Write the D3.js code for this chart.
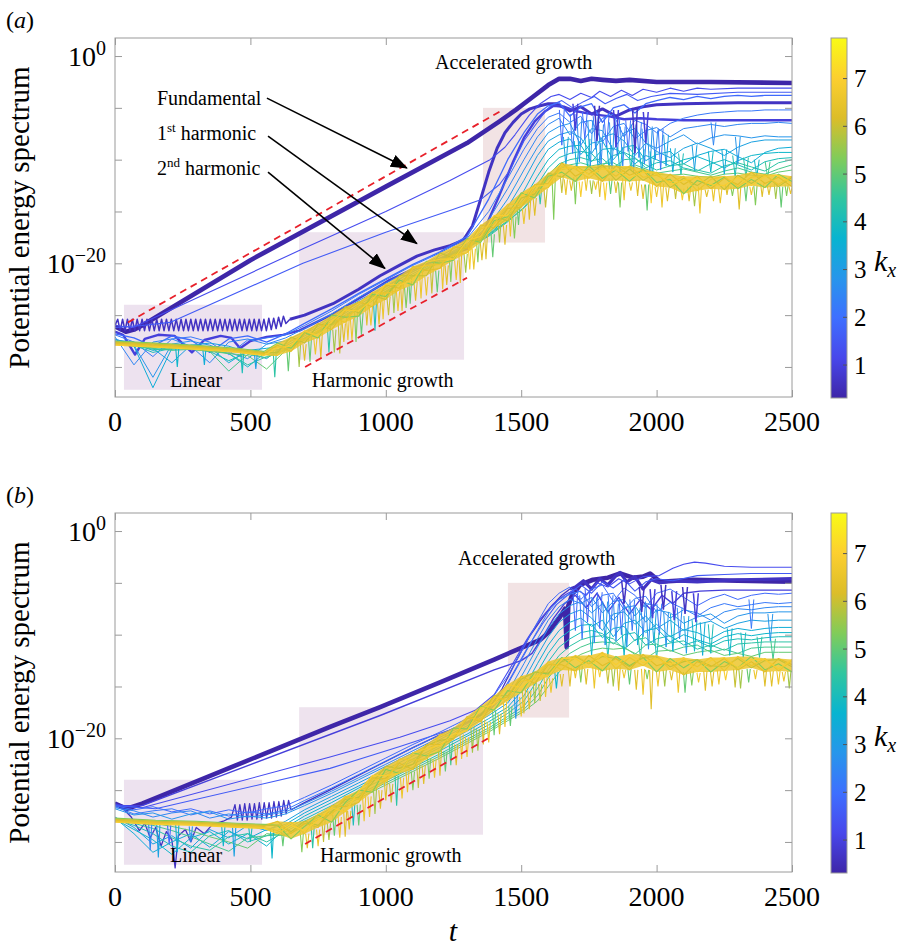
<!DOCTYPE html>
<html>
<head>
<meta charset="utf-8">
<script src="https://cdn.jsdelivr.net/npm/d3@7"></script>
<style>
body { margin: 0; background: #fff; }
svg text { font-family: "Liberation Serif", "Times New Roman", serif; fill: #000; }
</style>
</head>
<body>
<svg id="fig" width="905" height="946"></svg>
<script>
// ---------- data (t, log10 of the spectrum) ----------
const kx = [0.31,0.63,0.94,1.26,1.57,1.88,2.20,2.51,2.83,3.14,3.46,3.77,4.08,4.40,4.71,
            5.03,5.34,5.65,5.97,6.28,6.60,6.91,7.23,7.54,7.85];
const kRange = [0.31, 7.85];
const kTicks = [1, 2, 3, 4, 5, 6, 7];
const xTicks = [0, 500, 1000, 1500, 2000, 2500];
const yTicks = [-30, -25, -20, -15, -10, -5, 0];
const yLabelled = [0, -20];
const yExp = [-32.9, 1.74];

// shared time grids
const tGrid = [0,70,140,210,280,350,420,490,560,630,700,800,900,1000,1100,1200,1300,1380,1450,1510,
               1560,1600,1640,1680,1720,1760,1800,1840,1880,1920,1960,2000,2050,2100,2150,2200,2250,
               2300,2350,2400,2450,2500];
const tBand = [0,150,300,450,550,600,650,700,750,800,850,900,950,1000,1050,1100,1150,1200,1250,1300,
               1350,1400,1450,1500,1550,1600,1650,1700,1750,1800,1850,1900,1950,2000,2050,2100,2150,
               2200,2250,2300,2350,2400,2450,2500];

// ----- panel (a) -----
const fundA = [[0,-26.1],[40,-26.6],[70,-26.4],[100,-26.0],[500,-19.7],[1000,-12.6],[1300,-8.4],[1420,-6.3],
  [1480,-5.2],[1540,-4.0],[1600,-2.8],[1640,-2.2],[1680,-2.2],[1720,-2.4],[1760,-2.2],[1800,-2.3],
  [1850,-2.4],[1900,-2.3],[2000,-2.5],[2200,-2.5],[2500,-2.6]];
const combA = [[0,-26.0],[10,-25.4],[19,-26.5],[28,-25.4],[37,-26.5],[46,-25.4],[55,-26.5],[64,-25.4],
  [73,-26.5],[82,-25.4],[91,-26.5],[100,-25.4],[109,-26.5],[118,-25.4],[127,-26.5],[136,-25.4],[145,-26.5],
  [154,-25.4],[163,-26.5],[172,-25.4],[181,-26.5],[190,-25.4],[199,-26.5],[208,-25.4],[217,-26.5],
  [226,-25.4],[235,-26.5],[244,-25.4],[253,-26.5],[262,-25.4],[271,-26.5],[280,-25.4],[289,-26.5],
  [298,-25.4],[307,-26.5],[316,-25.4],[325,-26.5],[334,-25.4],[343,-26.5],[352,-25.4],[361,-26.5],
  [370,-25.4],[379,-26.5],[388,-25.4],[397,-26.5],[406,-25.4],[415,-26.5],[424,-25.4],[433,-26.5],
  [442,-25.4],[451,-26.5],[460,-25.4],[469,-26.5],[478,-25.4],[487,-26.5],[496,-25.4],[505,-26.5],
  [514,-25.4],[523,-26.5],[532,-25.4],[541,-26.5],[550,-25.4],[559,-26.5],[568,-25.3],[577,-26.4],
  [586,-25.3],[595,-26.3],[604,-25.2],[613,-26.1],[622,-25.1],[631,-25.8],[646,-25.4]];
const harmA2 = [[646,-25.4],[700,-25.0],[805,-23.9],[900,-22.5],[979,-21.2],[1050,-20.2],[1115,-19.3],
  [1180,-18.7],[1237,-18.3],[1285,-17.8],[1320,-16.4],[1348,-14.0],[1380,-11.2],[1411,-8.9],[1440,-7.4],
  [1470,-6.4],[1500,-5.6],[1532,-5.1],[1570,-4.8],[1600,-4.6],[1630,-4.6],[1680,-5.3],[1720,-4.9],
  [1760,-5.6],[1800,-5.1],[1850,-5.8],[1900,-5.2],[1950,-4.9],[2000,-4.7],[2100,-4.6],[2300,-4.5],[2500,-4.5]];
const modeA3 = [[0,-26.6],[30,-26.9],[74,-28.8],[110,-27.3],[160,-26.9],[220,-27.0],[284,-28.6],[330,-27.4],
  [390,-27.0],[430,-27.2],[462,-28.2],[500,-27.5],[560,-27.1],[620,-26.9],[680,-26.5],[805,-24.9],
  [900,-23.4],[1015,-21.6],[1115,-20.4],[1237,-19.2],[1300,-18.6],[1360,-17.0],[1420,-13.4],[1470,-10.2],
  [1510,-7.9],[1550,-6.3],[1590,-5.3],[1620,-4.8],[1660,-4.9],[1700,-5.3],[1760,-5.6],[1820,-5.8],
  [1880,-6.1],[1940,-6.0],[2000,-6.1],[2100,-6.2],[2300,-6.2],[2500,-6.2]];
const modeA4 = [[0,-26.0],[66,-26.2],[694,-18.6],[1000,-15.0],[1237,-12.0],[1385,-10.0],[1440,-8.8],
  [1477,-7.6],[1530,-5.7],[1570,-4.6],[1610,-3.9],[1640,-3.7],[1680,-4.2],[1720,-3.6],[1760,-4.0],
  [1790,-3.4],[1830,-3.9],[1870,-3.3],[1910,-3.8],[1950,-3.2],[2000,-3.5],[2050,-3.1],[2100,-3.4],
  [2150,-3.1],[2200,-3.2],[2300,-3.1],[2500,-3.1]];
const modeA5 = [[0,-26.2],[100,-26.0],[203,-25.7],[694,-20.0],[1000,-17.0],[1237,-14.9],[1348,-13.9],
  [1420,-12.4],[1459,-11.0],[1510,-8.2],[1551,-6.7],[1590,-5.3],[1614,-4.7],[1650,-4.3],[1690,-5.0],
  [1730,-4.4],[1770,-3.9],[1810,-4.6],[1850,-4.1],[1890,-3.7],[1930,-4.3],[1980,-3.9],[2050,-3.6],
  [2150,-3.7],[2300,-3.5],[2500,-3.5]];
const eA6  = [-26.8,-27.2,-28.0,-27.0,-27.4,-28.6,-27.3,-27.0,-27.6,-26.8,-25.8,-24.4,-22.9,-21.5,-20.1,-18.9,-17.4,-13.8,-10.0,-7.4,-5.6,-4.8,-4.5,-5.8,-4.9,-4.6,-6.4,-5.0,-4.7,-5.5,-4.6,-4.3,-4.0,-4.2,-3.9,-4.1,-3.9,-3.8,-3.9,-3.8,-3.8,-3.8];
const eA7  = [-26.9,-27.6,-29.0,-27.3,-27.1,-27.6,-28.8,-27.4,-27.2,-26.9,-26.0,-24.6,-23.0,-21.6,-20.2,-19.0,-17.6,-15.0,-11.8,-9.0,-7.0,-5.9,-5.5,-6.4,-5.8,-7.5,-6.0,-5.6,-7.8,-6.2,-6.6,-7.4,-6.5,-6.0,-5.7,-5.5,-5.4,-5.3,-5.3,-5.2,-5.2,-5.2];
const eA8  = [-27.1,-29.8,-27.6,-27.3,-28.0,-29.6,-27.6,-27.3,-27.8,-27.2,-26.3,-24.9,-23.3,-21.9,-20.5,-19.3,-17.9,-15.8,-12.8,-10.0,-7.8,-6.6,-6.0,-7.6,-6.4,-6.2,-8.3,-6.8,-6.5,-8.0,-7.2,-6.9,-7.8,-7.0,-6.8,-6.6,-6.8,-6.6,-6.5,-6.5,-6.4,-6.5];
const eA9  = [-27.3,-27.9,-31.0,-27.8,-27.5,-27.9,-28.6,-29.2,-27.8,-27.5,-26.6,-25.2,-23.6,-22.2,-20.8,-19.5,-18.1,-16.4,-13.8,-11.0,-8.8,-7.4,-6.8,-6.5,-8.6,-7.0,-7.2,-9.1,-7.4,-7.0,-8.4,-8.9,-8.2,-7.6,-8.5,-7.9,-7.6,-7.7,-7.9,-7.7,-7.8,-7.8];
const eA10 = [-27.4,-27.6,-28.2,-29.6,-27.9,-27.7,-28.0,-28.6,-29.2,-27.8,-26.8,-25.4,-23.8,-22.3,-20.8,-19.6,-18.2,-16.8,-14.6,-12.0,-9.6,-8.2,-7.6,-7.3,-7.9,-9.4,-7.8,-7.5,-8.2,-9.6,-8.4,-9.2,-9.8,-8.9,-8.4,-8.9,-9.6,-8.8,-8.3,-8.1,-8.1,-8.1];
const eA11 = [-27.5,-28.0,-32.0,-28.2,-27.9,-28.1,-29.6,-28.4,-28.2,-28.0,-27.0,-25.6,-24.0,-22.5,-21.0,-19.7,-18.3,-17.0,-15.2,-13.0,-10.6,-9.0,-8.3,-8.0,-9.5,-8.4,-8.2,-10.0,-8.8,-8.6,-10.1,-9.5,-9.2,-10.4,-9.6,-9.2,-9.0,-9.7,-10.3,-9.3,-8.9,-8.8];
const eA12 = [-27.6,-27.8,-28.4,-28.1,-28.0,-28.3,-28.7,-30.0,-28.5,-28.2,-27.2,-25.8,-24.2,-22.7,-21.2,-19.8,-18.4,-17.2,-15.6,-13.8,-11.6,-10.0,-9.0,-8.7,-8.6,-10.2,-9.0,-8.9,-9.4,-10.4,-9.6,-10.0,-10.6,-10.0,-9.7,-10.2,-10.8,-10.1,-9.6,-9.4,-9.3,-9.3];
const eA13 = [-27.6,-27.9,-28.6,-28.2,-28.1,-28.5,-29.4,-28.6,-28.8,-28.3,-27.3,-25.9,-24.3,-22.7,-21.2,-19.9,-18.5,-17.3,-15.9,-14.3,-12.4,-10.8,-9.8,-9.4,-9.2,-9.4,-10.6,-9.6,-9.3,-9.8,-10.8,-10.3,-10.1,-10.8,-11.1,-10.4,-10.0,-10.5,-11.0,-10.2,-9.9,-9.8];
const eA14 = [-27.7,-27.9,-28.3,-28.3,-28.2,-28.4,-28.7,-29.8,-29.0,-28.4,-27.4,-26.0,-24.4,-22.8,-21.3,-19.9,-18.5,-17.4,-16.0,-14.6,-13.0,-11.5,-10.4,-10.0,-9.8,-10.1,-9.9,-10.8,-10.0,-9.9,-10.5,-11.0,-10.6,-10.4,-11.0,-11.3,-10.6,-10.3,-10.7,-11.1,-10.3,-10.0];
const eA15 = [-27.7,-28.0,-28.2,-28.4,-28.3,-28.5,-30.4,-28.8,-29.1,-28.3,-27.2,-25.9,-24.4,-22.8,-21.2,-19.9,-18.4,-17.2,-15.9,-14.7,-13.2,-11.8,-10.9,-10.5,-10.3,-10.6,-10.4,-10.3,-10.9,-10.5,-10.9,-11.3,-11.1,-10.9,-11.2,-11.5,-11.1,-10.8,-11.2,-11.4,-10.9,-10.5];
const eA16 = [-27.7,-27.9,-28.1,-28.2,-28.3,-28.5,-28.7,-28.9,-30.2,-28.4,-27.3,-25.9,-24.4,-22.8,-21.3,-19.9,-18.4,-17.0,-15.6,-14.3,-13.0,-11.9,-11.0,-10.8,-10.7,-10.8,-10.7,-10.6,-10.8,-10.7,-11.1,-11.4,-11.5,-11.4,-11.6,-11.7,-11.4,-11.3,-11.5,-11.6,-11.2,-11.0];
const bandA17 = [-27.5,-27.7,-27.9,-28.2,-28.5,-27.7,-28.2,-26.7,-27.2,-25.0,-25.2,-25.1,-23.0,-23.2,-21.6,-22.1,-19.8,-20.0,-19.7,-17.6,-18.0,-15.9,-15.5,-13.2,-13.7,-11.6,-11.2,-12.1,-10.6,-11.8,-11.0,-12.1,-10.9,-12.2,-11.9,-13.3,-12.0,-12.5,-11.7,-12.8,-11.9,-12.7,-11.4,-12.1];
const bandA19 = [-27.6,-27.8,-28.0,-28.3,-28.6,-28.6,-27.1,-27.7,-25.9,-25.9,-24.2,-24.8,-23.1,-23.5,-21.2,-21.2,-21.2,-19.0,-19.5,-17.7,-17.8,-15.5,-15.9,-13.7,-13.3,-11.3,-11.7,-10.6,-11.4,-10.5,-12.0,-10.9,-12.0,-11.2,-12.7,-11.8,-12.5,-11.6,-12.9,-11.5,-12.3,-11.4,-12.6,-11.7];
const bandA20 = [-27.7,-27.9,-28.1,-28.4,-28.7,-27.9,-28.5,-26.8,-25.8,-26.4,-24.6,-23.7,-24.2,-22.1,-22.4,-20.3,-20.7,-20.5,-18.4,-18.6,-16.3,-16.6,-14.7,-14.6,-12.4,-12.3,-10.3,-11.6,-10.9,-12.1,-10.6,-11.5,-11.0,-12.6,-11.4,-12.4,-11.6,-12.8,-11.8,-12.4,-11.2,-12.3,-11.7,-12.6];
const bandA21 = [-27.8,-28.0,-28.2,-28.5,-28.8,-28.9,-27.4,-27.4,-26.5,-25.2,-25.7,-24.0,-22.8,-22.9,-22.6,-20.5,-20.2,-20.1,-19.2,-19.0,-16.7,-16.2,-14.3,-14.3,-13.0,-12.7,-10.6,-10.9,-11.8,-10.7,-11.6,-10.6,-11.7,-11.5,-12.2,-11.6,-13.0,-11.9,-11.6,-12.6,-11.7,-11.5,-12.4,-11.6];
const bandA22 = [-27.9,-28.1,-28.3,-28.6,-28.9,-28.1,-28.0,-26.5,-27.0,-25.6,-24.5,-24.6,-23.5,-22.0,-22.1,-21.6,-19.9,-19.6,-19.6,-17.8,-17.4,-15.4,-15.4,-13.5,-12.6,-12.4,-10.9,-10.7,-11.4,-10.9,-11.0,-11.8,-11.2,-11.3,-12.4,-12.0,-11.8,-12.4,-12.5,-11.7,-12.5,-11.6,-11.5,-12.3];
// downward dips below the high-kx band: [t, top, bottom, mode]
const spikesA = [[230,-28.1,-30.0,12],[330,-28.2,-29.8,11],[470,-28.4,-30.6,13],[520,-28.5,-30.2,10],
  [590,-28.4,-31.0,14],[640,-28.1,-30.4,16],[680,-27.5,-30.0,18],[720,-27.0,-29.5,16],[760,-26.6,-29.2,20],
  [790,-26.0,-28.6,14],[830,-25.5,-28.7,19],[860,-24.9,-27.4,21],[890,-24.5,-27.6,17],[930,-23.8,-26.0,20],
  [960,-23.4,-26.5,13],[990,-22.8,-25.4,21],[1030,-22.2,-24.8,18],[1060,-21.8,-24.6,20],[1090,-21.3,-23.9,16],
  [1130,-20.7,-23.4,21],[1170,-20.2,-22.9,19],[1210,-19.7,-22.5,21],[1240,-19.2,-21.8,17],[1275,-18.7,-21.9,20],
  [1310,-18.0,-20.6,22],[1340,-17.5,-19.9,17],[1370,-16.9,-19.6,20],[1420,-15.8,-18.0,18],[1460,-15.0,-17.4,21],
  [1490,-14.3,-16.3,16],[1530,-13.5,-15.8,20],[1570,-12.6,-14.3,14],[1620,-11.8,-15.8,17],[1650,-11.5,-13.2,19],
  [1700,-11.7,-14.3,17],[1740,-11.6,-13.0,21],[1790,-11.7,-13.6,20],[1830,-11.8,-13.3,16],[1880,-11.8,-13.9,21],
  [1930,-11.9,-13.5,20],[1980,-12.1,-14.2,22],[2020,-12.3,-14.6,21],[2070,-12.4,-13.8,19],[2120,-12.6,-14.0,20],
  [2160,-12.6,-15.2,21],[2210,-12.6,-14.0,21],[2260,-12.4,-13.4,20],[2330,-12.4,-14.0,16],[2390,-12.3,-13.6,20],
  [2440,-12.3,-13.8,18],[2480,-12.4,-13.5,17],
  [700,-27.8,-29.4,20],[740,-27.2,-28.8,21],[810,-26.4,-28.6,18],[845,-25.8,-27.6,20],[875,-25.3,-27.4,21],
  [910,-24.8,-26.9,16],[945,-24.2,-26.0,21],[975,-23.7,-25.9,20],[1010,-23.2,-25.0,19],[1045,-22.7,-24.6,21],
  [1075,-22.3,-24.3,17],[1110,-21.8,-23.6,20],[1150,-21.3,-23.1,21],[1190,-20.7,-22.8,16],[1225,-20.2,-22.1,20],
  [1260,-19.7,-21.6,21],[1295,-19.1,-20.9,18],[1325,-18.6,-20.6,21],[1355,-18.0,-19.7,20],[1395,-17.2,-19.4,16],
  [1440,-16.3,-18.2,20],[1475,-15.5,-17.6,17],[1510,-14.7,-16.2,21],[1550,-13.7,-15.4,20],[1590,-12.8,-14.6,19],
  [1665,-11.9,-13.4,21],[1685,-12.0,-13.0,20],[1720,-12.1,-13.6,22],[1760,-12.0,-13.3,18],[1775,-12.1,-12.9,21],
  [1810,-12.2,-13.9,22],[1850,-12.1,-13.2,20],[1865,-12.2,-14.6,17],[1905,-12.2,-13.0,21],[1950,-12.4,-13.8,20],
  [1965,-12.4,-14.9,16],[2000,-12.6,-13.6,21],[2040,-12.7,-14.0,20],[2095,-12.8,-13.9,22],[2140,-12.9,-14.5,18],
  [2185,-12.9,-13.6,20],[2235,-12.8,-14.2,21],[2280,-12.6,-13.5,17],[2305,-12.6,-14.8,20],[2350,-12.6,-13.4,21],
  [2365,-12.5,-14.4,17],[2415,-12.5,-13.4,20],[2460,-12.6,-14.6,16],[2495,-12.6,-13.3,21]];
// dips of the low-kx modes in the saturated stage: [t, top, bottom, mode]
const dipsA = [[1650,-5.2,-8.6,6],[1690,-5.6,-9.4,7],[1715,-6.0,-10.2,8],[1735,-5.4,-8.0,6],[1755,-6.2,-10.8,9],
  [1775,-5.8,-9.0,7],[1795,-6.6,-10.4,8],[1815,-5.9,-8.8,6],[1835,-6.4,-11.0,9],[1855,-6.0,-9.6,7],
  [1875,-6.8,-10.6,8],[1895,-6.2,-9.2,6],[1915,-6.6,-11.2,9],[1935,-6.4,-9.8,7],[1955,-7.0,-10.4,8],
  [1975,-6.8,-11.4,9],[1995,-7.2,-10.0,8],[2015,-7.0,-11.0,7],[2035,-7.6,-10.6,10],[1665,-7.8,-10.6,10],
  [1705,-8.2,-11.0,11],[1745,-8.0,-10.8,12],[1785,-8.4,-11.2,10],[1825,-8.6,-11.0,11],[1865,-8.8,-11.3,12],
  [1905,-8.6,-11.0,13],[1945,-9.0,-11.2,11],[1985,-9.2,-11.4,12],[2060,-8.9,-11.2,11],[2090,-9.4,-11.4,13],
  [2140,-8.6,-11.0,10],[2200,-9.2,-11.2,12],[2250,-9.0,-11.4,11],[2290,-9.6,-11.6,13],[2330,-9.8,-11.7,14],
  [2370,-10.0,-11.6,12],[2410,-10.2,-11.7,15],[2300,-7.8,-10.4,9],[2210,-6.4,-8.6,8],[1700,-4.6,-7.2,3],
  [1780,-4.8,-8.2,2],[1850,-5.2,-8.8,3],[1920,-5.0,-9.4,2],[1960,-5.4,-8.4,3]];
// shaded phases: [t0, t1, top, bottom]
const zonesA = [[33,543,-24.0,-32.2],[680,1289,-17.0,-29.3],[1359,1588,-5.0,-18.0]];
const dashesA = [[[48,-25.7],[1432,-5.2]],[[702,-30.0],[1300,-21.4]]];

// ----- panel (b) -----
const fundB = [[0,-26.3],[44,-26.8],[100,-26.3],[794,-18.9],[979,-17.0],[1200,-14.6],[1400,-12.4],[1570,-10.5],
  [1600,-9.8],[1643,-8.3],[1662,-7.5],[1668,-11.2],[1674,-7.2],[1690,-6.0],[1706,-5.6],[1717,-5.2],[1765,-4.7],
  [1820,-4.5],[1865,-4.1],[1913,-4.5],[1950,-4.4],[1976,-4.1],[2013,-4.9],[2134,-4.7],[2300,-4.8],[2500,-4.9]];
const lowB2 = [[0,-26.2],[30,-26.8],[60,-27.6],[90,-28.9],[110,-28.2],[130,-29.6],[150,-28.6],[170,-30.4],
  [190,-29.0],[210,-29.8],[222,-32.5],[234,-29.4],[260,-28.8],[280,-30.0],[300,-28.6],[330,-29.2],[360,-28.3],
  [400,-28.0],[430,-27.6],[443,-26.4],[452,-27.9],[461,-26.4],[470,-27.9],[479,-26.3],[488,-27.9],[497,-26.3],
  [506,-27.8],[515,-26.3],[524,-27.8],[533,-26.2],[542,-27.8],[551,-26.2],[560,-27.7],[569,-26.2],[578,-27.7],
  [587,-26.1],[596,-27.6],[605,-26.1],[614,-27.5],[623,-26.0],[632,-27.3],[641,-26.0],[650,-26.9],[700,-26.2],
  [800,-24.9],[979,-22.5],[1100,-20.9],[1237,-19.2],[1330,-18.1],[1380,-17.1],[1430,-15.2],[1480,-12.6],
  [1530,-10.2],[1570,-8.7],[1610,-7.3],[1650,-6.2],[1680,-5.6]];
const topB2 = [[1680,-5.6],[1700,-5.4],[1730,-4.8],[1760,-5.6],[1790,-4.6],[1820,-5.2],[1850,-4.3],[1865,-4.0],
  [1890,-4.9],[1920,-4.4],[1950,-5.6],[1980,-4.7],[2010,-5.0],[2060,-4.8],[2150,-4.9],[2300,-4.7],[2500,-4.6]];
const modeB3 = [[0,-26.5],[100,-26.5],[979,-17.8],[1400,-13.4],[1500,-12.5],[1540,-11.8],[1580,-10.2],[1620,-8.4],
  [1660,-7.0],[1700,-6.2],[1740,-7.4],[1780,-6.0],[1820,-7.8],[1860,-6.4],[1900,-8.0],[1940,-6.6],[1980,-7.6],
  [2020,-6.2],[2060,-7.0],[2100,-6.0],[2160,-5.8],[2250,-5.7],[2350,-5.7],[2500,-5.7]];
const modeB4 = [[0,-26.4],[100,-26.7],[794,-21.8],[1052,-19.9],[1237,-18.3],[1330,-17.3],[1400,-15.8],[1460,-13.2],
  [1520,-10.5],[1570,-8.5],[1620,-7.0],[1660,-6.2],[1700,-5.6],[1740,-6.2],[1780,-5.0],[1820,-5.4],[1860,-4.6],
  [1900,-5.1],[1950,-4.4],[2010,-4.3],[2060,-3.6],[2100,-3.2],[2140,-3.0],[2180,-3.1],[2250,-3.4],[2350,-3.5],[2500,-3.5]];
const modeB5 = [[0,-26.5],[150,-26.8],[794,-22.9],[1052,-20.8],[1237,-19.2],[1330,-18.2],[1400,-16.8],[1460,-14.2],
  [1520,-11.4],[1580,-8.9],[1630,-7.1],[1680,-6.0],[1720,-5.2],[1760,-6.0],[1800,-4.9],[1840,-5.5],[1880,-4.7],
  [1920,-5.8],[1960,-4.9],[2000,-4.6],[2060,-4.8],[2150,-4.3],[2250,-4.2],[2350,-4.1],[2500,-4.1]];
const eB6  = [-26.5,-26.9,-26.6,-27.1,-26.8,-27.3,-26.9,-27.2,-26.8,-26.5,-25.7,-24.5,-23.2,-21.9,-20.6,-19.4,-18.1,-16.6,-14.0,-11.2,-8.8,-7.0,-6.0,-5.4,-6.6,-5.6,-5.2,-6.8,-5.5,-6.2,-7.4,-6.0,-5.6,-6.4,-7.2,-6.5,-6.1,-6.6,-6.2,-6.0,-6.1,-6.0];
const eB7  = [-26.6,-27.3,-27.0,-26.8,-27.4,-27.0,-27.5,-27.1,-27.3,-26.9,-26.0,-24.8,-23.5,-22.2,-20.9,-19.7,-18.4,-17.1,-14.8,-12.0,-9.6,-7.8,-6.6,-6.1,-5.8,-7.3,-6.2,-6.0,-7.6,-6.5,-6.3,-7.8,-6.9,-7.5,-8.2,-7.4,-7.0,-7.3,-7.1,-6.9,-7.0,-6.9];
const eB8  = [-26.7,-27.0,-27.6,-27.2,-27.0,-27.7,-27.3,-27.6,-27.4,-27.1,-26.3,-25.1,-23.8,-22.5,-21.2,-19.9,-18.6,-17.4,-15.6,-12.8,-10.4,-8.6,-7.3,-6.6,-7.0,-6.4,-7.9,-6.8,-6.6,-8.2,-7.0,-7.2,-8.4,-7.6,-7.9,-8.6,-7.8,-7.5,-7.6,-7.4,-7.3,-7.3];
const eB9  = [-26.8,-27.4,-27.2,-27.8,-27.3,-27.1,-27.8,-27.5,-27.7,-27.3,-26.5,-25.3,-24.0,-22.7,-21.4,-20.1,-18.8,-17.6,-16.2,-13.6,-11.2,-9.4,-8.0,-7.2,-6.8,-7.9,-7.0,-8.6,-7.4,-7.2,-8.8,-7.6,-7.9,-8.9,-8.3,-8.0,-8.9,-8.2,-7.9,-7.9,-7.8,-7.8];
const eB10 = [-27.6,-28.6,-30.2,-29.4,-30.6,-28.8,-29.6,-28.4,-28.9,-28.0,-26.9,-25.6,-24.3,-23.0,-21.7,-20.4,-19.0,-17.8,-16.6,-14.4,-12.0,-10.2,-8.8,-8.0,-7.6,-8.4,-9.6,-8.0,-7.8,-9.0,-8.2,-9.4,-8.6,-9.6,-9.0,-8.7,-9.4,-8.9,-8.6,-8.7,-8.6,-8.6];
const eB11 = [-27.7,-29.2,-31.0,-30.0,-29.2,-30.5,-29.0,-29.7,-28.8,-28.3,-27.2,-25.9,-24.6,-23.3,-22.0,-20.7,-19.3,-18.1,-17.0,-15.2,-12.8,-11.0,-9.6,-8.8,-8.4,-9.2,-8.6,-10.2,-8.9,-8.6,-9.8,-9.0,-10.2,-9.5,-9.8,-10.4,-9.7,-9.4,-9.6,-9.4,-9.3,-9.3];
const eB12 = [-27.8,-28.8,-29.8,-31.2,-29.6,-29.0,-30.2,-29.2,-30.4,-28.6,-27.5,-26.2,-24.8,-23.5,-22.2,-20.9,-19.6,-18.4,-17.3,-15.9,-13.6,-11.8,-10.4,-9.6,-9.1,-9.0,-10.3,-9.4,-9.2,-10.6,-9.6,-9.4,-10.7,-10.0,-10.5,-10.9,-10.2,-9.9,-10.1,-9.9,-9.8,-9.8];
const eB13 = [-27.8,-28.4,-29.2,-30.4,-31.0,-29.4,-28.9,-30.0,-29.4,-28.8,-27.8,-26.5,-25.1,-23.8,-22.5,-21.2,-19.8,-18.7,-17.6,-16.4,-14.4,-12.6,-11.2,-10.4,-9.8,-9.6,-9.9,-10.9,-10.0,-9.8,-11.0,-10.4,-10.1,-11.0,-10.6,-11.2,-10.6,-10.4,-10.5,-10.3,-10.2,-10.2];
const eB14 = [-27.8,-28.2,-28.7,-29.6,-30.4,-30.8,-29.5,-29.2,-30.0,-29.0,-28.0,-26.8,-25.4,-24.1,-22.8,-21.5,-20.1,-19.0,-17.9,-16.9,-15.2,-13.4,-12.0,-11.1,-10.5,-10.2,-10.1,-10.4,-11.4,-10.5,-10.3,-11.2,-10.8,-10.6,-11.4,-11.0,-11.5,-10.9,-10.8,-10.7,-10.7,-10.7];
const eB15 = [-27.8,-28.1,-28.4,-28.9,-29.5,-30.2,-30.9,-29.6,-29.4,-29.3,-28.3,-27.0,-25.6,-24.3,-23.0,-21.7,-20.3,-19.2,-18.1,-17.2,-15.9,-14.2,-12.8,-11.8,-11.2,-10.8,-10.7,-10.8,-11.2,-11.9,-11.0,-10.9,-11.6,-11.2,-11.0,-11.7,-11.4,-11.8,-11.3,-11.2,-11.2,-11.2];
const eB16 = [-27.8,-28.0,-28.2,-28.5,-28.9,-29.5,-30.0,-30.6,-29.2,-29.4,-28.5,-27.2,-25.8,-24.5,-23.2,-21.9,-20.5,-19.4,-18.3,-17.4,-16.4,-15.0,-13.6,-12.6,-11.9,-11.5,-11.3,-11.4,-11.3,-11.8,-12.3,-11.6,-11.5,-12.0,-11.7,-11.5,-12.0,-11.8,-12.1,-11.7,-11.7,-11.7];
const bandB17 = [-27.7,-27.9,-28.0,-28.2,-28.3,-28.4,-29.7,-28.5,-27.4,-28.1,-26.2,-25.0,-25.2,-23.0,-23.4,-21.4,-21.7,-21.3,-19.0,-19.1,-16.9,-17.3,-15.4,-15.6,-13.6,-13.8,-12.2,-13.2,-12.5,-13.5,-12.1,-13.0,-12.2,-13.6,-12.3,-13.2,-12.4,-13.6,-12.6,-13.2,-12.1,-13.4,-12.8,-13.6];
const bandB19 = [-27.8,-28.0,-28.1,-28.3,-28.4,-28.4,-29.0,-28.0,-28.4,-27.1,-25.9,-25.7,-24.3,-22.7,-22.9,-22.5,-20.7,-20.2,-20.0,-18.1,-17.8,-15.9,-15.9,-14.3,-13.6,-13.7,-12.6,-12.1,-12.8,-12.1,-12.3,-13.1,-12.2,-12.1,-13.1,-12.6,-12.4,-13.0,-13.1,-12.3,-13.2,-12.5,-12.4,-13.1];
const bandB20 = [-27.9,-28.1,-28.2,-28.4,-28.5,-28.0,-29.2,-28.2,-28.6,-26.5,-26.6,-26.2,-23.8,-23.9,-22.4,-23.0,-20.6,-20.6,-20.1,-17.9,-18.4,-16.4,-16.0,-14.0,-14.7,-12.9,-12.9,-13.5,-12.0,-13.0,-12.3,-13.4,-11.9,-13.0,-12.6,-13.9,-12.6,-13.1,-12.3,-13.4,-12.6,-13.6,-12.3,-12.9];
const bandB21 = [-28.0,-28.2,-28.3,-28.5,-28.6,-28.9,-28.1,-29.2,-27.3,-27.4,-25.6,-25.9,-23.9,-24.2,-22.0,-22.1,-22.0,-19.6,-19.9,-18.0,-18.2,-16.0,-16.4,-14.5,-14.3,-12.6,-13.4,-12.0,-12.8,-11.7,-13.3,-12.2,-13.0,-12.0,-13.4,-12.4,-13.1,-12.2,-13.5,-12.1,-13.0,-12.3,-13.5,-12.5];
const bandB22 = [-28.1,-28.3,-28.4,-28.6,-28.7,-29.2,-28.4,-28.9,-27.9,-26.7,-27.1,-25.1,-23.6,-23.6,-23.4,-21.4,-21.0,-20.7,-19.6,-19.3,-17.1,-16.7,-14.8,-15.1,-14.0,-14.0,-12.3,-12.3,-13.2,-11.9,-12.9,-11.9,-12.7,-12.3,-12.9,-12.2,-13.6,-12.5,-12.2,-13.2,-12.4,-12.4,-13.3,-12.4];
const spikesB = [[130,-28.2,-30.8,8],[160,-28.3,-31.5,10],[200,-28.4,-30.2,6],[230,-28.3,-31.0,11],[280,-28.5,-30.0,9],
  [400,-28.5,-30.4,12],[440,-28.6,-31.4,10],[500,-28.6,-30.0,13],[580,-28.7,-31.6,12],[620,-28.8,-30.4,16],
  [690,-29.0,-31.0,17],[730,-28.4,-30.6,14],[770,-27.9,-30.0,19],[810,-27.4,-29.4,16],[850,-26.9,-29.5,20],
  [880,-26.2,-28.4,13],[920,-25.6,-28.0,21],[960,-24.8,-27.3,18],[1000,-24.0,-26.0,20],[1040,-23.6,-26.5,14],
  [1080,-23.0,-25.2,21],[1120,-22.5,-24.8,19],[1160,-21.9,-23.9,17],[1200,-21.1,-23.6,20],[1240,-20.4,-22.6,15],
  [1280,-19.6,-22.0,21],[1320,-18.9,-21.4,18],[1360,-18.2,-20.6,20],[1400,-17.3,-19.7,16],[1440,-16.5,-18.9,21],
  [1480,-15.8,-18.1,9],[1510,-15.3,-17.6,20],[1550,-14.6,-16.6,18],[1590,-14.0,-16.0,21],[1630,-13.6,-15.2,12],
  [1680,-13.2,-15.0,20],[1720,-13.0,-14.6,17],[1770,-13.1,-15.2,21],[1820,-13.2,-14.7,19],[1860,-13.1,-15.4,20],
  [1900,-13.3,-14.8,16],[1950,-13.3,-15.8,21],[1980,-13.4,-17.2,20],[2030,-13.4,-15.0,18],[2080,-13.5,-15.6,21],
  [2130,-13.5,-14.9,17],[2180,-13.5,-15.4,20],[2230,-13.4,-14.8,21],[2290,-13.3,-15.1,19],[2340,-13.3,-14.6,16],
  [2400,-13.4,-15.0,20],[2450,-13.5,-14.8,21],[2490,-13.5,-15.2,18],
  [710,-29.2,-30.6,20],[750,-28.8,-30.4,21],[790,-28.2,-29.8,18],[830,-27.6,-29.6,21],[865,-27.0,-28.8,20],
  [900,-26.4,-28.4,16],[940,-25.6,-27.6,21],[980,-25.0,-26.8,20],[1020,-24.4,-26.2,19],[1060,-23.8,-25.8,21],
  [1100,-23.2,-25.0,17],[1140,-22.6,-24.4,20],[1180,-22.0,-23.8,21],[1220,-21.3,-23.2,16],[1260,-20.6,-22.6,20],
  [1300,-19.9,-21.8,21],[1340,-19.1,-21.2,18],[1380,-18.4,-20.4,21],[1420,-17.6,-19.6,20],[1460,-16.9,-18.8,16],
  [1500,-16.0,-17.9,21],[1530,-15.4,-17.2,20],[1570,-14.8,-16.4,19],[1610,-14.2,-15.6,21],[1650,-13.8,-15.0,20],
  [1700,-13.2,-14.2,21],[1740,-13.3,-14.8,20],[1790,-13.2,-14.1,22],[1840,-13.3,-15.0,18],[1880,-13.4,-14.2,21],
  [1925,-13.4,-15.3,20],[1965,-13.4,-14.3,17],[2005,-13.5,-15.0,21],[2055,-13.5,-14.4,20],[2105,-13.6,-15.6,16],
  [2155,-13.7,-14.6,21],[2205,-13.6,-15.0,20],[2255,-13.5,-14.4,22],[2310,-13.4,-15.2,18],[2365,-13.4,-14.3,21],
  [2425,-13.5,-15.0,20],[2470,-13.6,-14.5,21]];
const dipsB = [[1700,-5.8,-9.6,6],[1725,-6.2,-10.4,7],[1745,-5.6,-8.8,5],[1770,-6.4,-10.8,8],[1790,-5.9,-9.4,6],
  [1810,-6.8,-11.0,9],[1830,-6.2,-9.8,7],[1850,-7.0,-10.6,8],[1870,-6.4,-10.0,6],[1890,-7.2,-11.2,9],
  [1910,-6.6,-9.6,7],[1930,-7.4,-11.0,10],[1950,-6.8,-10.2,8],[1970,-7.2,-11.4,9],[1990,-7.6,-10.8,10],
  [2010,-7.0,-10.0,7],[2035,-7.8,-11.2,9],[2060,-8.0,-11.6,11],[2085,-7.4,-10.4,8],[2110,-8.2,-11.8,10],
  [2140,-8.6,-11.6,12],[2170,-8.8,-12.0,11],[2200,-9.0,-11.8,13],[1945,-5.4,-7.8,2],[1985,-5.6,-8.4,3],
  [2025,-5.2,-7.6,2],[2065,-5.8,-8.6,3],[2105,-5.4,-8.0,2],[2145,-6.0,-8.8,3],[1880,-4.8,-7.0,2],
  [2270,-9.4,-12.0,12],[2320,-9.8,-12.2,13],[2380,-10.2,-12.2,14],[2430,-10.4,-12.4,15],[2350,-6.6,-9.4,7],
  [2420,-8.0,-10.6,9],[1760,-9.0,-12.0,12],[1820,-9.6,-12.2,13],[1880,-9.4,-12.0,12],[1940,-10.0,-12.2,14],
  [2000,-9.8,-12.3,13]];
const zonesB = [[33,543,-24.0,-32.2],[680,1359,-17.0,-29.3],[1451,1677,-5.0,-18.0]];
const dashesB = [[[702,-30.2],[1385,-19.9]]];

// ---------- look ----------
const parulaPos = [0, 1/9, 2/9, 3/9, 4/9, 5/9, 6/9, 7/9, 8/9, 1];
const parula = ['#3e26a8','#4847eb','#3e6fff','#2796eb','#08b4d0','#31c69f','#81cc59','#dcbd29','#fccf30','#f9fb15'];
const zoneFill = ['#ede2ef', '#eee3ee', '#f2e3e4'];
const axisGrey = '#9a9a9a';

const svg = d3.select('#fig');
const x = d3.scaleLinear().domain([0, 2500]).range([115, 792]);
const cmap = d3.scaleLinear().domain(parulaPos).range(parula).interpolate(d3.interpolateRgb);
const colorOf = n => cmap((kx[n - 1] - kRange[0]) / (kRange[1] - kRange[0]));
const zip = (ts, vs) => ts.map((t, i) => [t, vs[i]]);

const panels = [
  {name: 'a', top: 38, bottom: 397,
   series: [
     {n: 1, w: 4.6, d: fundA}, {n: 2, w: 1.5, d: combA}, {n: 2, w: 3, d: harmA2}, {n: 3, w: 2.4, d: modeA3},
     {n: 4, w: 1.1, d: modeA4}, {n: 5, w: 1.1, d: modeA5}, {n: 6, w: 1.3, d: zip(tGrid, eA6)},
     {n: 7, w: 1, d: zip(tGrid, eA7)}, {n: 8, w: 1, d: zip(tGrid, eA8)}, {n: 9, w: 1, d: zip(tGrid, eA9)},
     {n: 10, w: 1, d: zip(tGrid, eA10)}, {n: 11, w: 1, d: zip(tGrid, eA11)}, {n: 12, w: 1, d: zip(tGrid, eA12)},
     {n: 13, w: 1, d: zip(tGrid, eA13)}, {n: 14, w: 1, d: zip(tGrid, eA14)}, {n: 15, w: 1, d: zip(tGrid, eA15)},
     {n: 16, w: 1, d: zip(tGrid, eA16)}],
   band: [{n: 17, v: bandA17}, {n: 19, v: bandA19}, {n: 20, v: bandA20}, {n: 21, v: bandA21}, {n: 22, v: bandA22}],
   spikes: spikesA, dips: dipsA, zones: zonesA, dashes: dashesA,
   notes: [
     {t: 1182, L: -1.26, parts: [['Accelerated growth']]},
     {t: 203, L: -31.98, parts: [['Linear']]},
     {t: 727, L: -31.98, parts: [['Harmonic growth']]},
     {t: 155, L: -4.73, parts: [['Fundamental']]},
     {t: 155, L: -8.12, parts: [['1'], ['st', 'sup'], [' harmonic']]},
     {t: 155, L: -11.5, parts: [['2'], ['nd', 'sup'], [' harmonic']]}],
   arrows: [[[561,-4.06],[1078,-10.8]], [[565,-7.73],[1115,-18.1]], [[565,-11.2],[997,-20.5]]]},
  {name: 'b', top: 513, bottom: 872,
   series: [
     {n: 1, w: 4.6, d: fundB}, {n: 2, w: 1.3, d: lowB2}, {n: 2, w: 3.2, d: topB2}, {n: 3, w: 1.4, d: modeB3},
     {n: 4, w: 1.1, d: modeB4}, {n: 5, w: 1.1, d: modeB5}, {n: 6, w: 1, d: zip(tGrid, eB6)},
     {n: 7, w: 1, d: zip(tGrid, eB7)}, {n: 8, w: 1, d: zip(tGrid, eB8)}, {n: 9, w: 1, d: zip(tGrid, eB9)},
     {n: 10, w: 1, d: zip(tGrid, eB10)}, {n: 11, w: 1, d: zip(tGrid, eB11)}, {n: 12, w: 1, d: zip(tGrid, eB12)},
     {n: 13, w: 1, d: zip(tGrid, eB13)}, {n: 14, w: 1, d: zip(tGrid, eB14)}, {n: 15, w: 1, d: zip(tGrid, eB15)},
     {n: 16, w: 1, d: zip(tGrid, eB16)}],
   band: [{n: 17, v: bandB17}, {n: 19, v: bandB19}, {n: 20, v: bandB20}, {n: 21, v: bandB21}, {n: 22, v: bandB22}],
   spikes: spikesB, dips: dipsB, zones: zonesB, dashes: dashesB,
   notes: [
     {t: 1267, L: -3.29, parts: [['Accelerated growth']]},
     {t: 203, L: -31.98, parts: [['Linear']]},
     {t: 757, L: -31.98, parts: [['Harmonic growth']]}],
   arrows: []}
];

// arrow head
svg.append('defs').append('marker')
    .attr('id', 'head')
    .attr('markerUnits', 'userSpaceOnUse')
    .attr('markerWidth', 17).attr('markerHeight', 13)
    .attr('refX', 16).attr('refY', 6.5)
    .attr('orient', 'auto')
  .append('path')
    .attr('d', 'M0,0L17,6.5L0,13Z')
    .attr('fill', '#000');

// colour bar gradient
const grad = svg.select('defs').append('linearGradient')
    .attr('id', 'parula').attr('x1', 0).attr('y1', 1).attr('x2', 0).attr('y2', 0);
grad.selectAll('stop').data(parulaPos).enter().append('stop')
    .attr('offset', d => d).attr('stop-color', (d, i) => parula[i]);

panels.forEach(drawPanel);

function drawPanel(p) {
  const y = d3.scaleLog()
      .domain([Math.pow(10, yExp[0]), Math.pow(10, yExp[1])])
      .range([p.bottom, p.top]);
  const py = L => y(Math.pow(10, L));
  const line = d3.line().x(d => x(d[0])).y(d => py(d[1]));
  const vee = (d, half) => line([[d[0] - half, d[1]], [d[0], d[2]], [d[0] + half, d[1]]]);

  svg.select('defs').append('clipPath').attr('id', 'clip-' + p.name)
    .append('rect')
      .attr('x', 115).attr('y', p.top)
      .attr('width', 677).attr('height', p.bottom - p.top);

  const g = svg.append('g');
  const plot = g.append('g').attr('clip-path', `url(#clip-${p.name})`);

  plot.selectAll('rect.zone')
      .data(p.zones)
      .enter()
      .append('rect')
      .attr('class', 'zone')
      .attr('x', d => x(d[0]))
      .attr('width', d => x(d[1]) - x(d[0]))
      .attr('y', d => py(d[2]))
      .attr('height', d => py(d[3]) - py(d[2]))
      .attr('fill', (d, i) => zoneFill[i]);

  plot.selectAll('path.mode')
      .data(p.series)
      .enter()
      .append('path')
      .attr('class', 'mode')
      .attr('d', d => line(d.d))
      .attr('fill', 'none')
      .attr('stroke', d => colorOf(d.n))
      .attr('stroke-width', d => d.w)
      .attr('stroke-linejoin', 'round');

  plot.selectAll('path.dip')
      .data(p.dips)
      .enter()
      .append('path')
      .attr('class', 'dip')
      .attr('d', d => vee(d, 9))
      .attr('fill', 'none')
      .attr('stroke', d => colorOf(d[3]))
      .attr('stroke-width', d => d[3] < 4 ? 1.5 : 1);

  plot.selectAll('path.spike')
      .data(p.spikes)
      .enter()
      .append('path')
      .attr('class', 'spike')
      .attr('d', d => vee(d, 6))
      .attr('fill', 'none')
      .attr('stroke', d => colorOf(d[3]))
      .attr('stroke-width', 1.1);

  // envelope of the high-kx lines
  const env = tBand.map((t, i) => {
    const vals = p.band.map(b => b.v[i]);
    return [t, d3.min(vals), d3.max(vals)];
  });
  plot.append('path')
      .attr('d', d3.area().x(d => x(d[0])).y0(d => py(d[1])).y1(d => py(d[2]))(env))
      .attr('fill', colorOf(21))
      .attr('opacity', 0.85);

  plot.selectAll('path.band')
      .data(p.band)
      .enter()
      .append('path')
      .attr('class', 'band')
      .attr('d', d => line(zip(tBand, d.v)))
      .attr('fill', 'none')
      .attr('stroke', d => colorOf(d.n))
      .attr('stroke-width', 1.1)
      .attr('stroke-linejoin', 'round');

  plot.selectAll('path.dash')
      .data(p.dashes)
      .enter()
      .append('path')
      .attr('class', 'dash')
      .attr('d', d => line(d))
      .attr('stroke', '#e8202a')
      .attr('stroke-width', 1.8)
      .attr('stroke-dasharray', '7,5');

  // axes with inward ticks on all four sides
  const tickStyle = sel => {
    sel.selectAll('.tick line').attr('stroke', axisGrey);
    sel.select('.domain').remove();
  };
  g.append('g').attr('transform', `translate(0,${p.bottom})`)
    .call(d3.axisBottom(x).tickValues(xTicks).tickSize(-7).tickFormat('')).call(tickStyle);
  g.append('g').attr('transform', `translate(0,${p.top})`)
    .call(d3.axisTop(x).tickValues(xTicks).tickSize(-7).tickFormat('')).call(tickStyle);
  const yVals = yTicks.map(e => Math.pow(10, e));
  g.append('g').attr('transform', 'translate(115,0)')
    .call(d3.axisLeft(y).tickValues(yVals).tickSize(-7).tickFormat('')).call(tickStyle);
  g.append('g').attr('transform', 'translate(792,0)')
    .call(d3.axisRight(y).tickValues(yVals).tickSize(-7).tickFormat('')).call(tickStyle);
  g.append('rect')
      .attr('x', 115).attr('y', p.top)
      .attr('width', 677).attr('height', p.bottom - p.top)
      .attr('fill', 'none').attr('stroke', axisGrey).attr('stroke-width', 1);

  g.selectAll('text.xlab')
      .data(xTicks)
      .enter()
      .append('text')
      .attr('x', d => x(d))
      .attr('y', p.bottom + 34)
      .attr('text-anchor', 'middle')
      .attr('font-size', 28)
      .text(d => d);

  yLabelled.forEach(e => {
    const t = g.append('text')
        .attr('x', 106).attr('y', py(e) + 9.5)
        .attr('text-anchor', 'end')
        .attr('font-size', 28);
    t.append('tspan').text('10');
    t.append('tspan').attr('dy', -11).attr('font-size', 20).text(e === 0 ? '0' : '\u2212' + (-e));
  });

  g.append('text')
      .attr('transform', `translate(29,${(p.top + p.bottom) / 2})rotate(-90)`)
      .attr('text-anchor', 'middle')
      .attr('font-size', 29)
      .text('Potential energy spectrum');

  const letter = g.append('text')
      .attr('x', 6).attr('y', p.top - 10)
      .attr('font-size', 24);
  letter.append('tspan').text('(');
  letter.append('tspan').attr('font-style', 'italic').text(p.name);
  letter.append('tspan').text(')');

  // annotations
  p.notes.forEach(nt => {
    const t = g.append('text')
        .attr('x', x(nt.t)).attr('y', py(nt.L))
        .attr('font-size', 20);
    nt.parts.forEach(part => {
      const s = t.append('tspan').text(part[0]);
      if (part[1] === 'sup') s.attr('dy', -8).attr('font-size', 13);
      else if (t.node().childNodes.length > 1) s.attr('dy', 8);
    });
  });
  g.selectAll('line.arrow')
      .data(p.arrows)
      .enter()
      .append('line')
      .attr('x1', d => x(d[0][0])).attr('y1', d => py(d[0][1]))
      .attr('x2', d => x(d[1][0])).attr('y2', d => py(d[1][1]))
      .attr('stroke', '#000').attr('stroke-width', 1.6)
      .attr('marker-end', 'url(#head)');

  // colour bar
  const cb = d3.scaleLinear().domain(kRange).range([p.bottom + 1, p.top]);
  const cbg = svg.append('g');
  cbg.append('rect')
      .attr('x', 831).attr('y', p.top)
      .attr('width', 16).attr('height', p.bottom + 1 - p.top)
      .attr('fill', 'url(#parula)')
      .attr('stroke', axisGrey).attr('stroke-width', 1);
  cbg.selectAll('line.cbt')
      .data(kTicks)
      .enter()
      .append('line')
      .attr('x1', 843).attr('x2', 847)
      .attr('y1', d => cb(d)).attr('y2', d => cb(d))
      .attr('stroke', '#555');
  cbg.selectAll('text.cbl')
      .data(kTicks)
      .enter()
      .append('text')
      .attr('x', 854)
      .attr('y', d => cb(d) + 8.5)
      .attr('font-size', 25)
      .text(d => d);
  const kl = cbg.append('text')
      .attr('x', 874).attr('y', p.top + 233)
      .attr('font-size', 30)
      .attr('font-style', 'italic');
  kl.append('tspan').text('k');
  kl.append('tspan').attr('dy', 6).attr('font-size', 20).text('x');
}

svg.append('text')
    .attr('x', 453).attr('y', 941)
    .attr('text-anchor', 'middle')
    .attr('font-size', 30)
    .attr('font-style', 'italic')
    .text('t');
</script>
</body>
</html>
